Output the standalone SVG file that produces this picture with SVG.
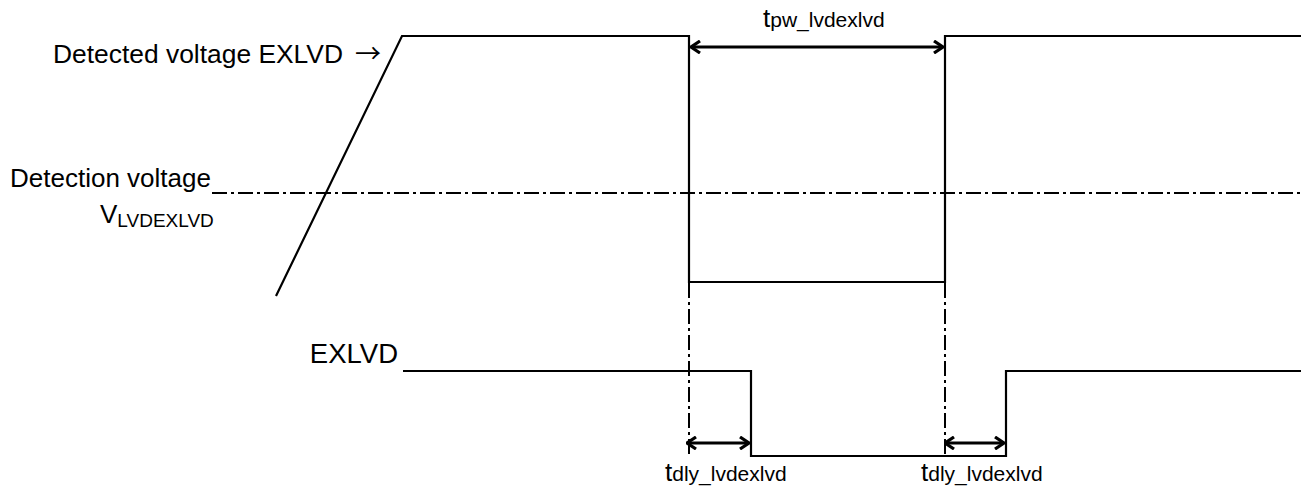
<svg xmlns="http://www.w3.org/2000/svg" width="1301" height="491" viewBox="0 0 1301 491">
<style>
.w{fill:none;stroke:#000;stroke-width:2.2;stroke-linejoin:miter}
.dd{fill:none;stroke:#000;stroke-width:2;stroke-dasharray:15 4 3 4}
.ar{fill:none;stroke:#000;stroke-width:3.2;marker-start:url(#ah);marker-end:url(#ah)}
text{font-family:"Liberation Sans",Arial,sans-serif;fill:#000}
.t{font-size:26px}
.s{font-size:21px}
.v{font-size:19px}
.arw{font-family:"Noto Sans CJK JP","Liberation Sans",sans-serif;font-size:26px}
</style>
<defs>
<marker id="ah" viewBox="0 0 12 14" refX="11" refY="7" markerWidth="12" markerHeight="14" markerUnits="userSpaceOnUse" orient="auto-start-reverse">
<path d="M2,1 L11,7 L2,13" fill="none" stroke="#000" stroke-width="3.2"/>
</marker>
</defs>
<g id="labels">
<text class="t" x="53" y="63" style="font-size:26.4px">Detected voltage EXLVD <tspan class="arw" x="355">→</tspan></text>
<text class="t" x="10" y="187">Detection voltage</text>
<text class="t" x="100" y="223">V<tspan class="v" dy="4">LVDEXLVD</tspan></text>
<text class="t" x="398" y="363" text-anchor="end" style="font-size:27.5px">EXLVD</text>
</g>
<g id="detected-voltage">
<path class="w" d="M276,296 L402,36 L689,36 L689,282 L945,282 L945,36 L1301,36"/>
</g>
<g id="threshold">
<line class="dd" x1="212" y1="193" x2="1301" y2="193"/>
</g>
<g id="exlvd">
<path class="w" d="M403,371 L751,371 L751,456 L1006,456 L1006,371 L1301,371"/>
</g>
<g id="guides">
<line class="dd" x1="689" y1="283" x2="689" y2="454"/>
<line class="dd" x1="945" y1="283" x2="945" y2="454"/>
</g>
<g id="connectors">
<line class="ar" x1="691" y1="47" x2="943" y2="47"/>
<line class="ar" x1="687" y1="443" x2="749" y2="443"/>
<line class="ar" x1="945" y1="443" x2="1004" y2="443"/>
</g>
<g id="timing-labels">
<text class="t" x="763" y="27">t<tspan class="s">pw_lvdexlvd</tspan></text>
<text class="t" x="665" y="481">t<tspan class="s">dly_lvdexlvd</tspan></text>
<text class="t" x="921" y="481">t<tspan class="s">dly_lvdexlvd</tspan></text>
</g>
</svg>
